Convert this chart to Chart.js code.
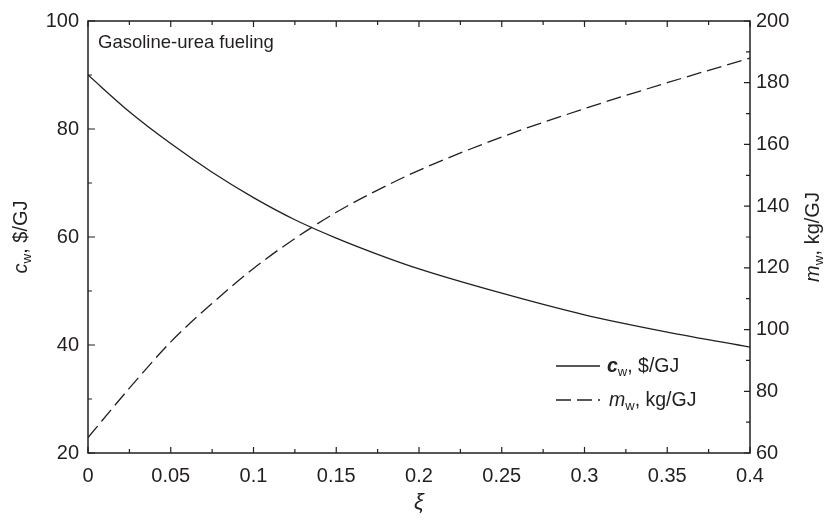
<!DOCTYPE html>
<html>
<head>
<meta charset="UTF-8">
<title>Gasoline-urea fueling</title>
<script src="https://cdn.jsdelivr.net/npm/chart.js"></script>
<style>
    body { margin: 0; background: #fff; }
    #wrap { width: 829px; height: 523px; position: relative; }
</style>
</head>
<body>
<div id="wrap"><canvas id="chart"></canvas></div>
<script>
// values
const xi = [0, 0.025, 0.05, 0.075, 0.1, 0.125, 0.15, 0.175, 0.2, 0.25, 0.3, 0.35, 0.4];
const cw = [90, 83.2, 77.3, 72.0, 67.3, 63.2, 59.8, 56.8, 54.1, 49.6, 45.6, 42.4, 39.6];
const mw = [65, 81, 96, 108.5, 119.8, 129.5, 138, 145.2, 151.6, 162.4, 171.6, 180, 188];

const xTicks = [0, 0.05, 0.1, 0.15, 0.2, 0.25, 0.3, 0.35, 0.4];
const xTickLabels = ['0', '0.05', '0.1', '0.15', '0.2', '0.25', '0.3', '0.35', '0.4'];
const xMinor = [0.025, 0.075, 0.125, 0.175, 0.225, 0.275, 0.325, 0.375];
const yTicks = [20, 40, 60, 80, 100];
const yMinor = [30, 50, 70, 90];
const y2Ticks = [60, 80, 100, 120, 140, 160, 180, 200];
const y2Minor = [70, 90, 110, 130, 150, 170, 190];

const INK = '#231f20';
const FONT = '"Liberation Sans", Arial, sans-serif';

// draws text pieces one after another (italic, subscript ...)
function richText(ctx, parts, x, y, align) {
    let total = 0;
    parts.forEach(p => {
        ctx.font = (p.style || '') + ' ' + p.size + 'px ' + FONT;
        p.w = ctx.measureText(p.t).width;
        total += p.w;
    });
    let cx = align === 'center' ? x - total / 2 : x;
    parts.forEach(p => {
        ctx.font = (p.style || '') + ' ' + p.size + 'px ' + FONT;
        ctx.textAlign = 'left';
        ctx.textBaseline = 'alphabetic';
        ctx.fillText(p.t, cx, y + (p.dy || 0));
        cx += p.w;
    });
}

const decor = {
    id: 'decor',
    afterDraw(chart) {
        const ctx = chart.ctx;
        const a = chart.chartArea;
        const sx = chart.scales.x, sy = chart.scales.y, sy2 = chart.scales.y2;
        ctx.save();
        ctx.strokeStyle = INK;
        ctx.fillStyle = INK;

        // frame
        ctx.lineWidth = 1.5;
        ctx.strokeRect(a.left, a.top, a.right - a.left, a.bottom - a.top);

        // inward ticks
        ctx.lineWidth = 1.2;
        ctx.beginPath();
        const vt = (vals, len) => vals.forEach(v => {
            const px = sx.getPixelForValue(v);
            ctx.moveTo(px, a.bottom); ctx.lineTo(px, a.bottom - len);
            ctx.moveTo(px, a.top); ctx.lineTo(px, a.top + len);
        });
        vt(xTicks, 6); vt(xMinor, 4);
        const lt = (vals, len) => vals.forEach(v => {
            const py = sy.getPixelForValue(v);
            ctx.moveTo(a.left, py); ctx.lineTo(a.left + len, py);
        });
        lt(yTicks, 7); lt(yMinor, 4);
        const rt = (vals, len) => vals.forEach(v => {
            const py = sy2.getPixelForValue(v);
            ctx.moveTo(a.right, py); ctx.lineTo(a.right - len, py);
        });
        rt(y2Ticks, 6); rt(y2Minor, 4);
        ctx.stroke();

        // inside title
        richText(ctx, [{ t: 'Gasoline-urea fueling', size: 18.5 }], 98, 47.5, 'left');

        // axis titles
        ctx.save();
        ctx.translate(27, (a.top + a.bottom) / 2);
        ctx.rotate(-Math.PI / 2);
        richText(ctx, [
            { t: 'c', size: 20, style: 'italic' },
            { t: 'w', size: 13.5, dy: 4 },
            { t: ', $/GJ', size: 20 }
        ], 0, 0, 'center');
        ctx.restore();

        ctx.save();
        ctx.translate(819, (a.top + a.bottom) / 2);
        ctx.rotate(-Math.PI / 2);
        richText(ctx, [
            { t: 'm', size: 20, style: 'italic' },
            { t: 'w', size: 13.5, dy: 4 },
            { t: ', kg/GJ', size: 20 }
        ], 0, 0, 'center');
        ctx.restore();

        richText(ctx, [{ t: 'ξ', size: 22, style: 'italic' }], (a.left + a.right) / 2, 509, 'center');

        // legend
        ctx.lineWidth = 1.3;
        ctx.beginPath();
        ctx.moveTo(556, 366); ctx.lineTo(600, 366);
        ctx.stroke();
        ctx.setLineDash([15, 6]);
        ctx.beginPath();
        ctx.moveTo(556, 400); ctx.lineTo(600, 400);
        ctx.stroke();
        ctx.setLineDash([]);
        richText(ctx, [
            { t: 'c', size: 19.5, style: 'italic bold' },
            { t: 'w', size: 13, dy: 4 },
            { t: ', $/GJ', size: 19.5 }
        ], 607, 372, 'left');
        richText(ctx, [
            { t: 'm', size: 19.5, style: 'italic' },
            { t: 'w', size: 13, dy: 4 },
            { t: ', kg/GJ', size: 19.5 }
        ], 609, 406, 'left');

        ctx.restore();
    }
};

const fixedTicks = (vals) => (scale) => {
    scale.ticks = vals.map(v => ({ value: v }));
};

new Chart(document.getElementById('chart'), {
    type: 'line',
    data: {
        datasets: [
            {
                label: 'cw',
                data: xi.map((x, i) => ({ x: x, y: cw[i] })),
                yAxisID: 'y',
                borderColor: INK,
                borderWidth: 1.3,
                pointRadius: 0,
                cubicInterpolationMode: 'monotone',
                fill: false
            },
            {
                label: 'mw',
                data: xi.map((x, i) => ({ x: x, y: mw[i] })),
                yAxisID: 'y2',
                borderColor: INK,
                borderWidth: 1.3,
                borderDash: [15, 6],
                pointRadius: 0,
                cubicInterpolationMode: 'monotone',
                fill: false
            }
        ]
    },
    options: {
        responsive: true,
        maintainAspectRatio: false,
        animation: false,
        layout: { padding: { top: 14, left: 0, right: 0, bottom: 0 } },
        plugins: {
            legend: { display: false },
            tooltip: { enabled: false }
        },
        scales: {
            x: {
                type: 'linear',
                min: 0,
                max: 0.4,
                afterBuildTicks: fixedTicks(xTicks),
                afterFit: (s) => { s.height = 70; },
                grid: { display: false, drawTicks: false },
                border: { display: false },
                ticks: {
                    padding: 11,
                    color: INK,
                    font: { family: FONT, size: 20 },
                    maxRotation: 0,
                    callback: (v) => xTickLabels[xTicks.indexOf(v)]
                }
            },
            y: {
                position: 'left',
                min: 20,
                max: 100,
                afterBuildTicks: fixedTicks(yTicks),
                afterFit: (s) => { s.width = 88; },
                grid: { display: false, drawTicks: false },
                border: { display: false },
                ticks: {
                    padding: 9,
                    color: INK,
                    font: { family: FONT, size: 20 }
                }
            },
            y2: {
                position: 'right',
                min: 60,
                max: 200,
                afterBuildTicks: fixedTicks(y2Ticks),
                afterFit: (s) => { s.width = 79; },
                grid: { display: false, drawTicks: false },
                border: { display: false },
                ticks: {
                    padding: 6,
                    color: INK,
                    font: { family: FONT, size: 20 }
                }
            }
        }
    },
    plugins: [decor]
});
</script>
</body>
</html>
